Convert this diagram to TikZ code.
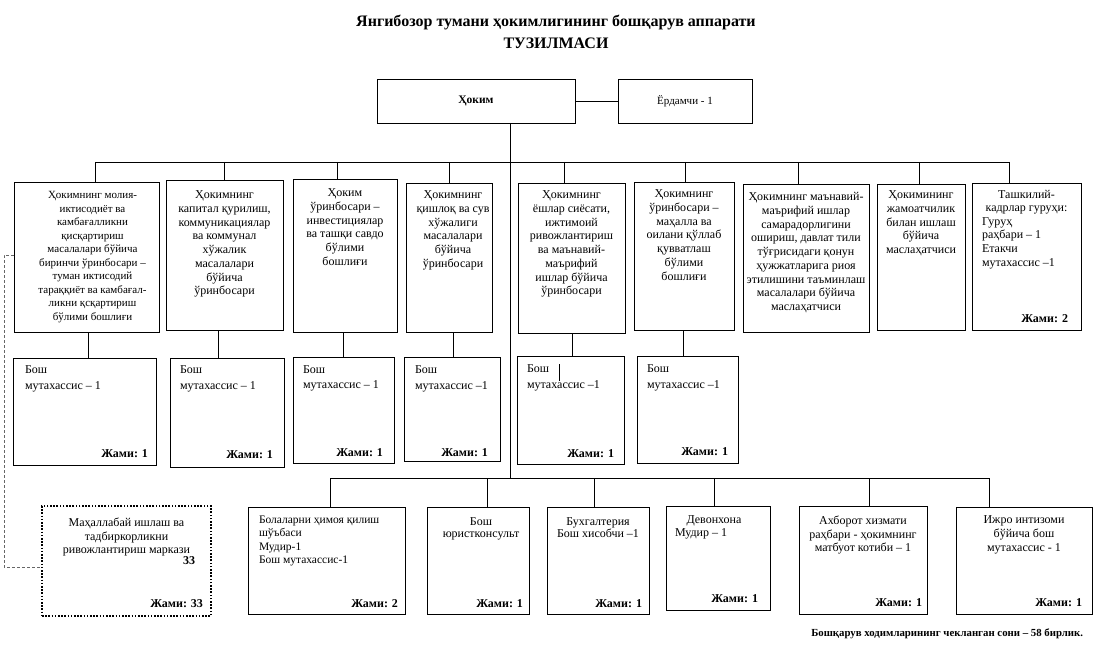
\documentclass[tikz,border=0pt]{standalone}
\usepackage{fontspec}
\setmainfont{Liberation Serif}
\usetikzlibrary{fit}
\begin{document}
\begin{tikzpicture}[x=1pt,y=-1pt,
  every node/.style={inner sep=0pt, outer sep=0pt, font=\fontsize{12pt}{13.7pt}\selectfont},
  boxst/.style={draw, line width=0.8pt, inner sep=0pt, outer sep=0pt},
  dotbox/.style={draw, line width=1.6pt, dash pattern=on 1.6pt off 1.6pt, inner sep=0pt, outer sep=0pt},
  ctxt/.style={align=center, anchor=north},
  ltxt/.style={align=left, anchor=north west},
  small/.style={font=\fontsize{11pt}{13.5pt}\selectfont},
  mid/.style={font=\fontsize{11.5pt}{13.4pt}\selectfont},
  tight/.style={font=\fontsize{12pt}{12pt}\selectfont},
  subt/.style={font=\fontsize{12pt}{15.5pt}\selectfont},
  jami/.style={anchor=base east, font=\fontsize{12pt}{13.7pt}\selectfont\bfseries},
  titlest/.style={font=\fontsize{16pt}{20pt}\selectfont\bfseries},
  conn/.style={line width=0.8pt},
  dashconn/.style={line width=0.8pt, black!60, dash pattern=on 3pt off 2pt},
]
\useasboundingbox (0,0) rectangle (1100,655);

% title
\node[titlest] (ttl1) at (556,23) {Янгибозор тумани ҳокимлигининг бошқарув аппарати};
\node[titlest] (ttl2) at (556,43) {ТУЗИЛМАСИ};

% top boxes
\node[boxst, fit={(377,79) (575,123)}] (hok) {};
\node[font=\fontsize{11.5pt}{13.5pt}\selectfont\bfseries] (hokt) at (hok.center) {Ҳоким};
\node[boxst, fit={(618,79) (752,123)}] (erd) {};
\node[small] (erdt) at (erd.center) {Ёрдамчи - 1};

% row of nine
\node[boxst, fit={(14,182) (159,332)}] (t1) {};
\node[boxst, fit={(166,180) (283,330)}] (t2) {};
\node[boxst, fit={(293,179) (397,332)}] (t3) {};
\node[boxst, fit={(406,183) (492,332)}] (t4) {};
\node[boxst, fit={(518,183) (625,333)}] (t5) {};
\node[boxst, fit={(634,182) (734,330)}] (t6) {};
\node[boxst, fit={(743,184) (869,332)}] (t7) {};
\node[boxst, fit={(877,184) (965,330)}] (t8) {};
\node[boxst, fit={(972,183) (1081,330)}] (t9) {};

\node[ctxt, small] (t1t) at ([xshift=6pt,yshift=-9.4pt]t1.north) {Ҳокимнинг молия-\\иктисодиёт ва\\камбағалликни\\қисқартириш\\масалалари бўйича\\биринчи ўринбосари –\\туман иктисодий\\тараққиёт ва камбағал-\\ликни қсқартириш\\бўлими бошлиғи};
\node[ctxt] (t2t) at ([yshift=-11pt]t2.north) {Ҳокимнинг\\капитал қурилиш,\\коммуникациялар\\ва коммунал\\хўжалик\\масалалари\\бўйича\\ўринбосари};
\node[ctxt] (t3t) at ([yshift=-10pt]t3.north) {Ҳоким\\ўринбосари –\\инвестициялар\\ва ташқи савдо\\бўлими\\бошлиғи};
\node[ctxt] (t4t) at ([xshift=4pt,yshift=-8pt]t4.north) {Ҳокимнинг\\қишлоқ ва сув\\хўжалиги\\масалалари\\бўйича\\ўринбосари};
\node[ctxt] (t5t) at ([yshift=-8pt]t5.north) {Ҳокимнинг\\ёшлар сиёсати,\\ижтимоий\\ривожлантириш\\ва маънавий-\\маърифий\\ишлар бўйича\\ўринбосари};
\node[ctxt] (t6t) at ([yshift=-8pt]t6.north) {Ҳокимнинг\\ўринбосари –\\маҳалла ва\\оилани қўллаб\\қувватлаш\\бўлими\\бошлиғи};
\node[ctxt] (t7t) at ([yshift=-8.6pt]t7.north) {Ҳокимнинг маънавий-\\маърифий ишлар\\самарадорлигини\\ошириш, давлат тили\\тўғрисидаги қонун\\ҳужжатларига риоя\\этилишини таъминлаш\\масалалари бўйича\\маслаҳатчиси};
\node[ctxt] (t8t) at ([yshift=-7pt]t8.north) {Ҳокимининг\\жамоатчилик\\билан ишлаш\\бўйича\\маслаҳатчиси};
\node[ctxt] (t9t) at ([yshift=-7pt]t9.north) {Ташкилий-\\кадрлар гуруҳи:};
\node[ltxt] (t9l) at ([shift={(10pt,-34.4pt)}]t9.north west) {Гуруҳ\\раҳбари – 1\\Етакчи\\мутахассис –1};
\node[jami] (t9j) at ([shift={(-13pt,8pt)}]t9.south east) {Жами: 2};

% sub boxes
\node[boxst, fit={(13,358) (156,465)}] (s1) {};
\node[boxst, fit={(170,358) (284,467)}] (s2) {};
\node[boxst, fit={(293,357) (394,463)}] (s3) {};
\node[boxst, fit={(404,357) (500,461)}] (s4) {};
\node[boxst, fit={(517,356) (624,464)}] (s5) {};
\node[boxst, fit={(637,356) (738,463)}] (s6) {};

\node[ltxt, subt] (s1t) at ([shift={(12pt,-8pt)}]s1.north west) {Бош\\мутахассис – 1};
\node[ltxt, subt] (s2t) at ([shift={(10pt,-8pt)}]s2.north west) {Бош\\мутахассис – 1};
\node[ltxt, subt] (s3t) at ([shift={(10pt,-8.3pt)}]s3.north west) {Бош\\мутахассис – 1};
\node[ltxt, subt] (s4t) at ([shift={(11pt,-9pt)}]s4.north west) {Бош\\мутахассис –1};
\node[ltxt, subt] (s5t) at ([shift={(10pt,-9pt)}]s5.north west) {Бош\\мутахассис –1};
\node[ltxt, subt] (s6t) at ([shift={(10pt,-9pt)}]s6.north west) {Бош\\мутахассис –1};

\node[jami] (s1j) at ([shift={(-8pt,8pt)}]s1.south east) {Жами: 1};
\node[jami] (s2j) at ([shift={(-11pt,9pt)}]s2.south east) {Жами: 1};
\node[jami] (s3j) at ([shift={(-11pt,6.3pt)}]s3.south east) {Жами: 1};
\node[jami] (s4j) at ([shift={(-12pt,4.6pt)}]s4.south east) {Жами: 1};
\node[jami] (s5j) at ([shift={(-10pt,7pt)}]s5.south east) {Жами: 1};
\node[jami] (s6j) at ([shift={(-10pt,8pt)}]s6.south east) {Жами: 1};

% bottom boxes
\node[dotbox, fit={(42,506) (211,616)}] (dot) {};
\node[boxst, fit={(248,507) (405,614)}] (b1) {};
\node[boxst, fit={(427,507) (529,614)}] (b2) {};
\node[boxst, fit={(547,507) (649,614)}] (b3) {};
\node[boxst, fit={(666,506) (770,610)}] (b4) {};
\node[boxst, fit={(799,506) (927,614)}] (b5) {};
\node[boxst, fit={(956,507) (1092,614)}] (b6) {};

\node[ctxt] (dott) at ([yshift=-12pt]dot.north) {Маҳаллабай ишлаш ва\\тадбиркорликни\\ривожлантириш маркази};
\node[jami] (dot33) at ([shift={(-16pt,52pt)}]dot.south east) {33};
\node[jami] (dotj) at ([shift={(-8pt,9pt)}]dot.south east) {Жами: 33};

\node[ltxt, mid] (b1t) at ([shift={(11pt,-9pt)}]b1.north west) {Болаларни ҳимоя қилиш\\шўъбаси\\Мудир-1\\Бош мутахассис-1};
\node[jami] (b1j) at ([shift={(-7pt,7pt)}]b1.south east) {Жами: 2};

\node[ctxt, tight] (b2t) at ([xshift=3pt,yshift=-11pt]b2.north) {Бош\\юристконсульт};
\node[jami] (b2j) at ([shift={(-6pt,7pt)}]b2.south east) {Жами: 1};

\node[ctxt, tight] (b3t) at ([yshift=-10.6pt]b3.north) {Бухгалтерия\\Бош хисобчи –1};
\node[jami] (b3j) at ([shift={(-7pt,7pt)}]b3.south east) {Жами: 1};

\node[ctxt] (b4t) at ([xshift=-4pt,yshift=-10pt]b4.north) {Девонхона};
\node[ltxt] (b4l) at ([shift={(9pt,-23pt)}]b4.north west) {Мудир – 1};
\node[jami] (b4j) at ([shift={(-12pt,8pt)}]b4.south east) {Жами: 1};

\node[ctxt] (b5t) at ([yshift=-10pt]b5.north) {Ахборот хизмати\\раҳбари - ҳокимнинг\\матбуот котиби – 1};
\node[jami] (b5j) at ([shift={(-5pt,8pt)}]b5.south east) {Жами: 1};

\node[ctxt] (b6t) at ([yshift=-9pt]b6.north) {Ижро интизоми\\бўйича бош\\мутахассис - 1};
\node[jami] (b6j) at ([shift={(-10pt,8pt)}]b6.south east) {Жами: 1};

% footer
\node[anchor=east, font=\fontsize{10.8pt}{12pt}\selectfont\bfseries] (foot) at (1083,634) {Бошқарув ходимларининг чекланган сони – 58 бирлик.};

% connectors
\draw[conn] (hok) -- (erd);

\coordinate (j1) at (95,162);
\coordinate (j2) at (224,162);
\coordinate (j3) at (337,162);
\coordinate (j4) at (449,162);
\coordinate (j5) at (564,162);
\coordinate (j6) at (685,162);
\coordinate (j7) at (798,162);
\coordinate (j8) at (919,162);
\coordinate (j9) at (1009,162);
\draw[conn] (j1) -- (j9);
\foreach \i in {1,...,9} { \draw[conn] (j\i) -- (j\i |- t\i.north); }

\coordinate (jc) at (510,478);
\draw[conn] (hok.south -| jc) -- (jc);

\coordinate (k1) at (88,345);
\coordinate (k2) at (218,345);
\coordinate (k3) at (343,345);
\coordinate (k4) at (453,345);
\coordinate (k5) at (572,345);
\coordinate (k6) at (683,345);
\foreach \i in {1,...,6} { \draw[conn] (t\i.south -| k\i) -- (k\i |- s\i.north); }

% stray tick inside s5
\coordinate (tk1) at (559,364);
\coordinate (tk2) at (559,381);
\draw[conn] (tk1) -- (tk2);

\coordinate (m1) at (330,478);
\coordinate (m2) at (487,478);
\coordinate (m3) at (594,478);
\coordinate (m4) at (714,478);
\coordinate (m5) at (869,478);
\coordinate (m6) at (989,478);
\draw[conn] (m1) -- (m6);
\foreach \i in {1,...,6} { \draw[conn] (m\i) -- (m\i |- b\i.north); }

% dashed link
\coordinate (d1) at (4,255);
\coordinate (d2) at (4,567);
\draw[dashconn] (t1.west |- d1) -- (d1) -- (d2) -- (d2 -| dot.west);

\end{tikzpicture}
\end{document}
